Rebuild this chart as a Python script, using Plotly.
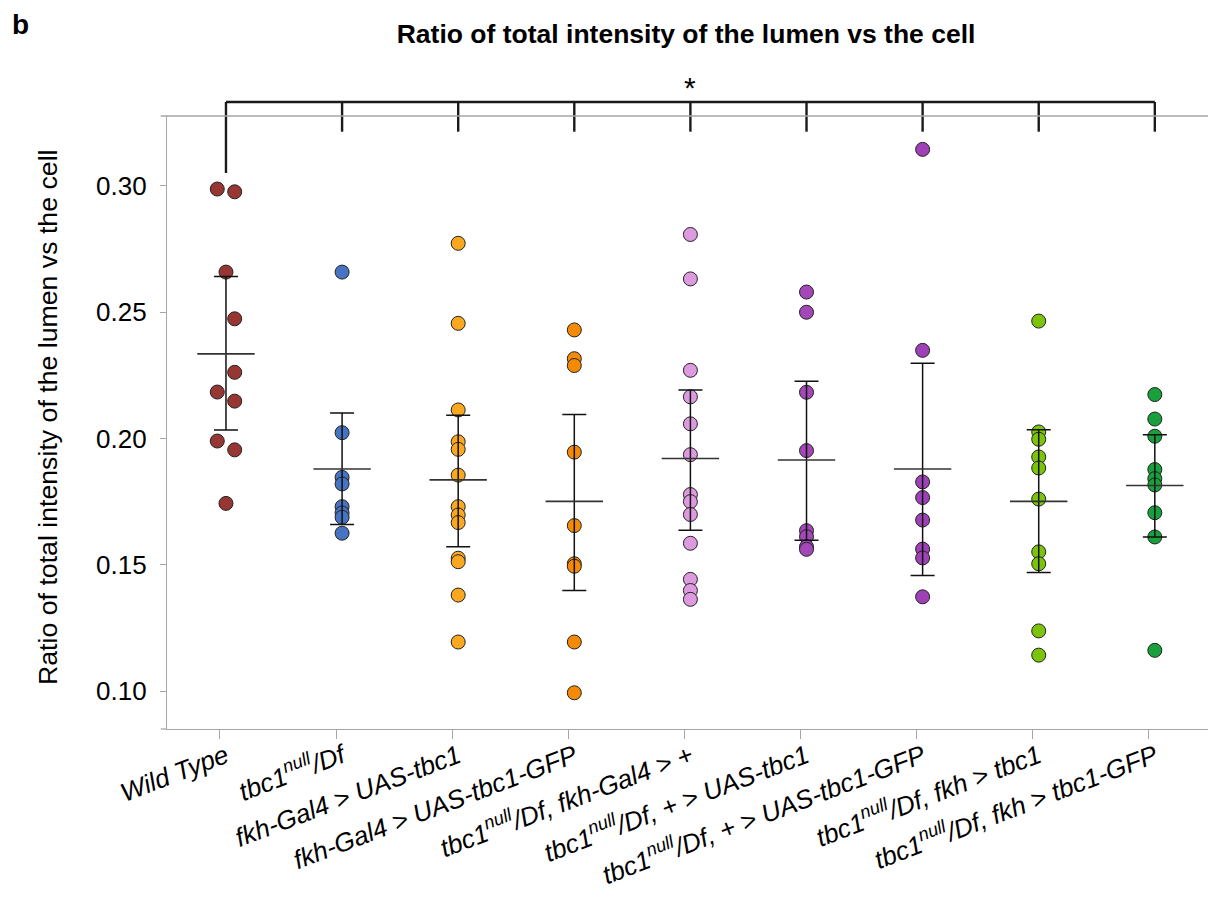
import plotly.graph_objects as go

# ---------------- data ----------------
categories = [
    "<i>Wild Type</i>",
    "<i>tbc1<sup>null</sup>/Df</i>",
    "<i>fkh-Gal4 > UAS-tbc1</i>",
    "<i>fkh-Gal4 > UAS-tbc1-GFP</i>",
    "<i>tbc1<sup>null</sup>/Df, fkh-Gal4 > +</i>",
    "<i>tbc1<sup>null</sup>/Df, + > UAS-tbc1</i>",
    "<i>tbc1<sup>null</sup>/Df, + > UAS-tbc1-GFP</i>",
    "<i>tbc1<sup>null</sup>/Df, fkh > tbc1</i>",
    "<i>tbc1<sup>null</sup>/Df, fkh > tbc1-GFP</i>",
]

wild_type = [0.2988, 0.2977, 0.2659, 0.2474, 0.2262, 0.2184, 0.2148, 0.1990, 0.1955, 0.1743]
wild_type_side = [-1, 1, 0, 1, 1, -1, 1, -1, 1, 0]
tbc1_df = [0.2659, 0.2023, 0.1846, 0.1820, 0.1730, 0.1705, 0.1688, 0.1625]
fkh_uas_tbc1 = [0.2773, 0.2456, 0.2113, 0.1987, 0.1957, 0.1855, 0.1730, 0.1697, 0.1667,
                0.1526, 0.1512, 0.1380, 0.1194]
fkh_uas_tbc1_gfp = [0.2430, 0.2316, 0.2289, 0.1946, 0.1655, 0.1504, 0.1494, 0.1194, 0.0993]
df_fkh_plus = [0.2808, 0.2632, 0.2270, 0.2165, 0.2058, 0.1936, 0.1778, 0.1750, 0.1699,
               0.1585, 0.1442, 0.1398, 0.1363]
df_plus_uas_tbc1 = [0.2580, 0.2500, 0.2183, 0.1952, 0.1635, 0.1611, 0.1571, 0.1561]
df_plus_uas_tbc1_gfp = [0.3145, 0.2349, 0.1828, 0.1766, 0.1677, 0.1562, 0.1527, 0.1373]
df_fkh_tbc1 = [0.2465, 0.2026, 0.1997, 0.1927, 0.1883, 0.1760, 0.1551, 0.1504, 0.1238, 0.1142]
df_fkh_tbc1_gfp = [0.2174, 0.2077, 0.2009, 0.1877, 0.1841, 0.1816, 0.1706, 0.1610, 0.1161]

groups = [wild_type, tbc1_df, fkh_uas_tbc1, fkh_uas_tbc1_gfp, df_fkh_plus,
          df_plus_uas_tbc1, df_plus_uas_tbc1_gfp, df_fkh_tbc1, df_fkh_tbc1_gfp]

means = [0.2335, 0.1879, 0.1836, 0.1751, 0.1921, 0.1915, 0.1879, 0.1751, 0.1814]
ci_high = [0.2642, 0.2101, 0.2092, 0.2095, 0.2192, 0.2227, 0.2298, 0.2035, 0.2015]
ci_low = [0.2034, 0.1659, 0.1571, 0.1398, 0.1637, 0.1597, 0.1457, 0.1469, 0.1610]

colors = ["#983633", "#4774c2", "#f9a81f", "#f48a05", "#de9ade",
          "#a347b9", "#9e40b6", "#7cc40a", "#17a03b"]

title_text = "Ratio of total intensity of the lumen vs the cell"
y_title = "Ratio of total intensity of the lumen vs the cell"
y_ticks = [0.10, 0.15, 0.20, 0.25, 0.30]

# ---------------- figure ----------------
FONT = "Liberation Sans, Arial, sans-serif"
fig = go.Figure()

for i, vals in enumerate(groups):
    if i == 0:
        xs = [i + 0.075 * s for s in wild_type_side]
    else:
        xs = [i] * len(vals)
    fig.add_trace(go.Scatter(
        x=xs, y=vals, mode="markers", showlegend=False,
        marker=dict(size=14, color=colors[i], line=dict(color="#222222", width=1)),
    ))

idx = list(range(len(categories)))
# error bars (CI) on top of points
fig.add_trace(go.Scatter(
    x=idx, y=means, mode="markers", showlegend=False,
    marker=dict(size=1, color="rgba(0,0,0,0)"),
    error_y=dict(type="data", symmetric=False,
                 array=[h - m for h, m in zip(ci_high, means)],
                 arrayminus=[m - l for m, l in zip(means, ci_low)],
                 width=12, thickness=1.5, color="#111111"),
))
# mean lines
fig.add_trace(go.Scatter(
    x=idx, y=means, mode="markers", showlegend=False,
    marker=dict(symbol="line-ew", size=41, line=dict(color="#333333", width=1.6)),
))

# significance bracket
top_y = 1.0228
leg_end = 0.9744
first_leg_end = 0.907
shapes = [dict(type="line", xref="x", yref="paper", x0=idx[0], x1=idx[-1], y0=top_y, y1=top_y,
               line=dict(color="#1a1a1a", width=2.4))]
for i in idx:
    shapes.append(dict(type="line", xref="x", yref="paper", x0=i, x1=i, y0=top_y,
                       y1=first_leg_end if i == 0 else leg_end,
                       line=dict(color="#1a1a1a", width=2.4)))
# top frame line extending slightly past the y-axis
shapes.append(dict(type="line", xref="paper", yref="paper", x0=-0.006, x1=1, y0=1, y1=1,
                   line=dict(color="#a6a6a6", width=1.3)))
shapes.append(dict(type="line", xref="paper", yref="paper", x0=-0.006, x1=0, y0=0, y1=0,
                   line=dict(color="#a6a6a6", width=1.3)))

annotations = [
    dict(text="*", x=(idx[0] + idx[-1]) / 2, xref="x", y=1.0473, yref="paper",
         showarrow=False, font=dict(family=FONT, size=30, color="black"),
         xanchor="center", yanchor="middle"),
    dict(text="<b>b</b>", x=-0.1508, xref="paper", y=1.150, yref="paper",
         showarrow=False, font=dict(family=FONT, size=28, color="black"),
         xanchor="left", yanchor="middle"),
    dict(text=y_title, x=-0.1143, xref="paper", y=0.509, yref="paper", textangle=-90,
         showarrow=False, font=dict(family=FONT, size=26.7, color="black"),
         xanchor="center", yanchor="middle"),
]

# tick marks in the reference sit slightly left of the point columns
tick_positions = [i - 0.052 for i in idx]

fig.update_layout(
    width=1210, height=912,
    margin=dict(l=167, r=2, t=116, b=183),
    paper_bgcolor="white", plot_bgcolor="white",
    font=dict(family=FONT, color="black"),
    title=dict(text="<b>" + title_text + "</b>", x=0.567, xref="container", xanchor="center",
               y=1 - 34 / 912, yref="container", yanchor="middle",
               font=dict(family=FONT, size=26.5, color="black")),
    shapes=shapes, annotations=annotations,
    xaxis=dict(range=[-0.508, 8.458], tickmode="array", tickvals=tick_positions,
               ticktext=categories,
               tickangle=-21, showgrid=False, zeroline=False, showline=True,
               linecolor="#a6a6a6", linewidth=1.3, ticks="outside", ticklen=9,
               tickcolor="#a6a6a6", tickwidth=1.3, ticklabelshift=6, ticklabelstandoff=-8,
               tickfont=dict(family=FONT, size=26, color="black")),
    yaxis=dict(range=[0.08495, 0.32772], tickmode="array", tickvals=y_ticks,
               ticktext=["%.2f" % v for v in y_ticks],
               showgrid=False, zeroline=False, showline=True,
               linecolor="#a6a6a6", linewidth=1.3, ticks="outside", ticklen=6,
               tickcolor="#a6a6a6", tickwidth=1.3, ticklabelstandoff=8,
               tickfont=dict(family=FONT, size=26, color="black")),
)

fig.write_html("out.html")
